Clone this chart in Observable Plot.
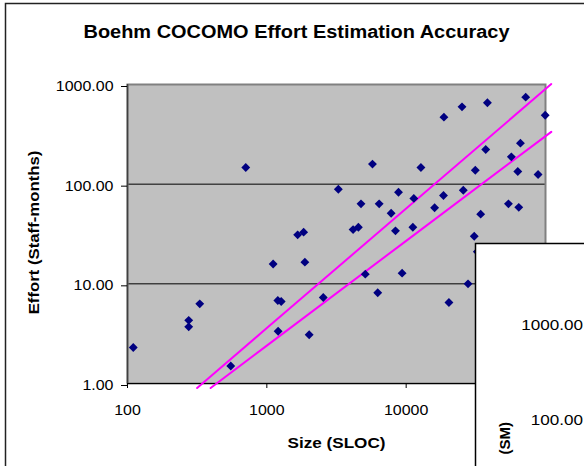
<!DOCTYPE html>
<html>
<head>
<meta charset="utf-8">
<script src="https://cdn.jsdelivr.net/npm/d3@7"></script>
<script src="https://cdn.jsdelivr.net/npm/@observablehq/plot@0.6"></script>
<style>
  body { margin: 0; background: #fff; }
  #chart { position: relative; width: 584px; height: 466px; overflow: hidden; }
  #chart svg { display: block; overflow: visible; }
</style>
</head>
<body>
<div id="chart"></div>
<script>
// ---- data ----
const title = "Boehm COCOMO Effort Estimation Accuracy";
const xLabel = "Size (SLOC)";
const yLabel = "Effort (Staff-months)";

const sizes = [110, 275, 275, 330, 551, 706, 1110, 1199, 1268, 1205,
  1664, 1837, 1875, 2013, 2541, 3260, 4160, 4540, 4740, 5090,
  5730, 6250, 6400, 7800, 8380, 8810, 9350, 11170, 11350, 12760,
  16000, 18530, 18660, 20270, 25170, 25700, 27800, 30800, 31340, 32400,
  34260, 37240, 38290, 54200, 56880, 63260, 64300, 66070, 72100, 88470, 99500];
const efforts = [2.3, 4.3, 3.7, 6.3, 1.5, 147, 15.8, 6.8, 6.65, 3.34,
  31, 33, 16.5, 3.08, 7.3, 89, 35, 37, 63.5, 12.5,
  159, 8.15, 63.5, 51, 34, 83, 12.8, 37, 72, 147,
  58, 77, 470, 6.5, 597, 87, 10, 30, 138, 21,
  50, 223, 655, 63.5, 188, 134, 58.5, 258, 747, 125, 492];

// model lines
const upperSizes = [316, 1000, 10000, 110000];
const upperEfforts = [0.9, 3.6, 57, 1010];
const lowerSizes = [395, 1000, 10000, 110000];
const lowerEfforts = [0.9, 2.4, 27, 335];

const xTicks = [100, 1000, 10000];
const yTicks = [1, 10, 100, 1000];
const yGrid = [10, 100];

// partially visible neighbouring chart (lower right)
const insetTickLabels = ["1000.00", "100.00"];
const insetAxisLabel = "(SM)";

// ---- tables ----
const points = sizes.map((s, i) => ({size: s, effort: efforts[i]}));
const upper = upperSizes.map((s, i) => ({size: s, effort: upperEfforts[i]}));
const lower = lowerSizes.map((s, i) => ({size: s, effort: lowerEfforts[i]}));

const font = "'Liberation Sans', Arial, Helvetica, sans-serif";

const svg = Plot.plot({
  width: 584,
  height: 466,
  marginLeft: 127,
  marginRight: 39,
  marginTop: 84,
  marginBottom: 83,
  style: {fontFamily: font, fontSize: "14px", color: "#000", background: "transparent", overflow: "visible"},
  x: {type: "log", domain: [100, 100000]},
  y: {type: "log", domain: [1, 1000]},
  marks: [
    Plot.frame({fill: "#c0c0c0", stroke: null}),
    Plot.ruleY(yGrid, {stroke: "#000", strokeWidth: 1}),
    Plot.frame({stroke: "#808080", strokeWidth: 2}),
    Plot.ruleX([100], {stroke: "#404040", strokeWidth: 1.5}),
    Plot.ruleY([1], {stroke: "#000", strokeWidth: 1}),
    Plot.axisX({ticks: xTicks, tickSize: 5, tickPadding: 17, tickFormat: d3.format("d"), label: null, fontSize: 14}),
    Plot.axisY({ticks: yTicks, tickSize: 6, tickPadding: 8, tickFormat: d3.format(".2f"), label: null, fontSize: 14, dy: 2}),
    Plot.line(upper, {x: "size", y: "effort", stroke: "#ff00ff", strokeWidth: 2}),
    Plot.line(lower, {x: "size", y: "effort", stroke: "#ff00ff", strokeWidth: 2}),
    Plot.dot(points, {x: "size", y: "effort", symbol: "diamond2", r: 4, fill: "#000080", stroke: null}),
    Plot.text([title], {frameAnchor: "top", lineAnchor: "middle", textAnchor: "middle", dx: -40, dy: -52, fontSize: 17.5, fontWeight: "bold"}),
    Plot.text([xLabel], {frameAnchor: "bottom", lineAnchor: "middle", textAnchor: "middle", dy: 60, fontSize: 15, fontWeight: "bold"}),
    Plot.text([yLabel], {frameAnchor: "left", lineAnchor: "middle", textAnchor: "middle", rotate: -90, dx: -93, dy: -1.5, fontSize: 15.5, fontWeight: "bold"})
  ]
});
document.getElementById("chart").appendChild(svg);

const root = d3.select(svg);

// outer chart border (left & top)
root.append("path")
  .attr("d", "M5.5,466V3.5H584")
  .attr("fill", "none").attr("stroke", "#222").attr("stroke-width", 1.5);

// overlapping neighbouring chart
const inset = root.append("g");
inset.append("rect").attr("x", 475).attr("y", 243).attr("width", 120).attr("height", 240).attr("fill", "#fff");
inset.append("path").attr("d", "M475.5,470V243.5H590")
  .attr("fill", "none").attr("stroke", "#000").attr("stroke-width", 1.5);
insetTickLabels.forEach((t, i) => {
  inset.append("text").attr("x", 583).attr("y", i === 0 ? 330 : 425)
    .attr("text-anchor", "end").attr("font-family", font).attr("font-size", 15)
    .attr("fill", "#000").text(t);
});
inset.append("text")
  .attr("transform", "translate(510,422) rotate(-90)")
  .attr("text-anchor", "end").attr("font-family", font).attr("font-size", 15)
  .attr("font-weight", "bold").attr("fill", "#000").text(insetAxisLabel);

// the reference's text is horizontally stretched (~1.14x)
root.selectAll("text").each(function () {
  const tr = this.getAttribute("transform") || "";
  const w = this.getComputedTextLength();
  if (!(w > 0)) return;
  if (tr.includes("rotate")) {
    if (this.textContent === yLabel) {
      this.setAttribute("textLength", (w * 1.08).toFixed(1));
      this.setAttribute("lengthAdjust", "spacingAndGlyphs");
    }
    return;
  }
  this.setAttribute("textLength", (w * 1.14).toFixed(1));
  this.setAttribute("lengthAdjust", "spacingAndGlyphs");
});
</script>
</body>
</html>
